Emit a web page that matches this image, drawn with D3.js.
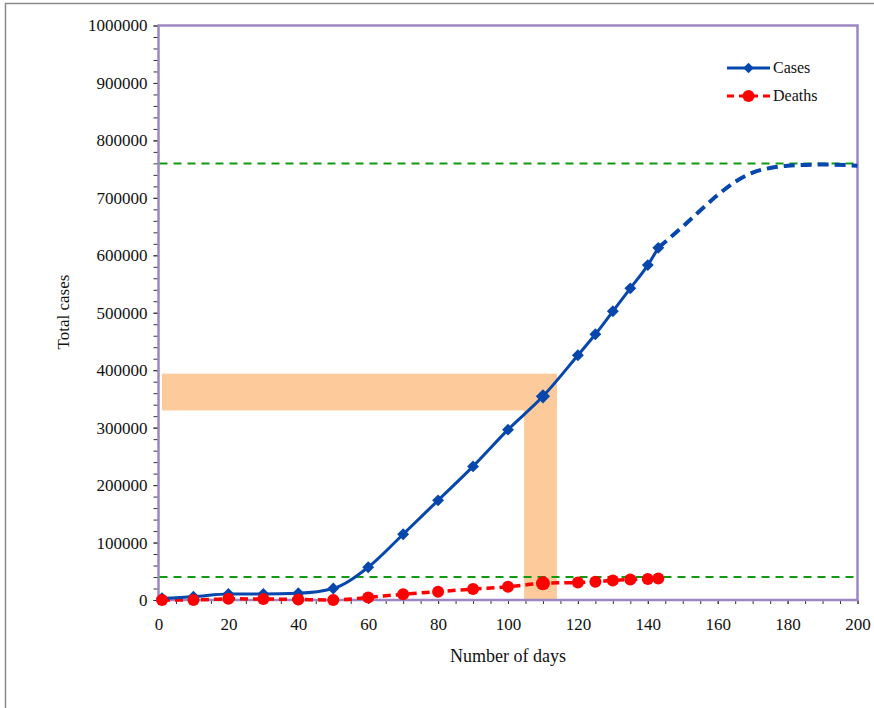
<!DOCTYPE html>
<html>
<head>
<meta charset="utf-8">
<script src="https://cdn.jsdelivr.net/npm/d3@7"></script>
<style>
  body { margin: 0; background: #fff; overflow: hidden; }
  svg { display: block; }
  text { font-family: "Liberation Serif", "Times New Roman", serif; fill: #111; }
  .tick text { font-size: 17px; }
  .tick line { stroke: #333; }
</style>
</head>
<body>
<script>
// observed data
const days = [1, 10, 20, 30, 40, 50, 60, 70, 80, 90, 100, 110, 120, 125, 130, 135, 140, 143]
const cases = [3000, 5800, 10500, 10500, 11700, 20000, 57000, 114500, 173500, 232500, 296500, 354500, 426000, 462500, 502500, 542500, 583000, 613000]
const deaths = [0, 0, 2000, 1800, 1000, 0, 4500, 10000, 14500, 19000, 23000, 29000, 30500, 31800, 34000, 35500, 36500, 37600]

// projected cases (dashed)
const projDays = [143, 150, 155, 160, 165, 170, 175, 180, 190, 200]
const projCases = [613000, 650000, 678000, 705000, 728000, 744000, 752000, 756000, 758000, 756000]

// reference levels (green dashed)
const levels = [760000, 40000]

// shaded annotation bands [x0, x1, y0, y1]
const bands = [[1, 114, 330000, 394000], [104.6, 114, 0, 388000]]

const xTicks = [0, 20, 40, 60, 80, 100, 120, 140, 160, 180, 200]
const yTicks = [0, 100000, 200000, 300000, 400000, 500000, 600000, 700000, 800000, 900000, 1000000]

const width = 874
const height = 708
const margin = { top: 25.5, left: 158.5, right: 16.5, bottom: 108 }
const innerWidth = width - margin.left - margin.right
const innerHeight = height - margin.top - margin.bottom

const blue = '#0647ad'
const red = '#ff0000'
const green = '#109a10'
const purple = '#9c86c4'

const svg = d3.select('body').append('svg')
  .attr('width', width)
  .attr('height', height)

// outer frame (top and left edges visible)
svg.append('path')
  .attr('d', `M5.5,${height} V3.5 H${width}`)
  .attr('fill', 'none')
  .attr('stroke', '#888')
  .attr('stroke-width', 1.5)

const main = svg.append('g')
  .attr('transform', `translate(${margin.left}, ${margin.top})`)

const xScale = d3.scaleLinear().domain([0, 200]).range([0, innerWidth])
const yScale = d3.scaleLinear().domain([0, 1000000]).range([innerHeight, 0])

// bands
main.append('g').selectAll('rect')
  .data(bands)
  .enter()
  .append('rect')
  .attr('x', d => xScale(d[0]))
  .attr('width', d => xScale(d[1]) - xScale(d[0]))
  .attr('y', d => yScale(d[3]))
  .attr('height', d => yScale(d[2]) - yScale(d[3]))
  .attr('fill', '#fdcb9b')

// minor ticks (no labels)
main.append('g')
  .call(d3.axisLeft(yScale).tickValues(d3.range(0, 1000001, 20000)).tickSize(5))
  .call(g => g.select('.domain').remove())
  .call(g => g.selectAll('text').remove())
main.append('g')
  .attr('transform', `translate(0, ${innerHeight})`)
  .call(d3.axisBottom(xScale).tickValues(d3.range(0, 201, 5)).tickSize(4))
  .call(g => g.select('.domain').remove())
  .call(g => g.selectAll('text').remove())

// axes
main.append('g')
  .call(d3.axisLeft(yScale).tickValues(yTicks).tickSize(5).tickPadding(6).tickFormat(d3.format('d')))
  .call(g => g.select('.domain').remove())
main.append('g')
  .attr('transform', `translate(0, ${innerHeight})`)
  .call(d3.axisBottom(xScale).tickValues(xTicks).tickSize(4).tickPadding(14))
  .call(g => g.select('.domain').remove())

// plot border
main.append('rect')
  .attr('width', innerWidth)
  .attr('height', innerHeight)
  .attr('fill', 'none')
  .attr('stroke', purple)
  .attr('stroke-width', 2.5)

// reference lines
main.append('g').selectAll('line')
  .data(levels)
  .enter()
  .append('line')
  .attr('x1', 1).attr('x2', innerWidth - 1)
  .attr('y1', d => yScale(d)).attr('y2', d => yScale(d))
  .attr('stroke', green)
  .attr('stroke-width', 2)
  .attr('stroke-dasharray', '8,6')

const caseData = days.map((d, i) => ({ x: d, y: cases[i] }))
const deathData = days.map((d, i) => ({ x: d, y: deaths[i] }))
const projData = projDays.map((d, i) => ({ x: d, y: projCases[i] }))

const line = d3.line()
  .x(d => xScale(d.x))
  .y(d => yScale(d.y))
  .curve(d3.curveMonotoneX)

main.append('path')
  .datum(deathData)
  .attr('d', line)
  .attr('fill', 'none')
  .attr('stroke', red)
  .attr('stroke-width', 3.5)
  .attr('stroke-dasharray', '8,5')

main.append('path')
  .datum(projData)
  .attr('d', line)
  .attr('fill', 'none')
  .attr('stroke', blue)
  .attr('stroke-width', 4)
  .attr('stroke-dasharray', '11,6')

main.append('path')
  .datum(caseData)
  .attr('d', line)
  .attr('fill', 'none')
  .attr('stroke', blue)
  .attr('stroke-width', 3)

const diamond = d3.symbol().type(d3.symbolDiamond2)

main.append('g').selectAll('path')
  .data(caseData)
  .enter()
  .append('path')
  .attr('transform', d => `translate(${xScale(d.x)}, ${yScale(d.y)})`)
  .attr('d', d => diamond.size(d.x === 110 ? 130 : 90)())
  .attr('fill', blue)

main.append('g').selectAll('circle')
  .data(deathData)
  .enter()
  .append('circle')
  .attr('cx', d => xScale(d.x))
  .attr('cy', d => yScale(d.y))
  .attr('r', d => d.x === 110 ? 7 : 6)
  .attr('fill', red)

// legend
const legend = svg.append('g').attr('transform', 'translate(727, 68)')
legend.append('line').attr('x1', 0).attr('x2', 43).attr('stroke', blue).attr('stroke-width', 3)
legend.append('path').attr('transform', 'translate(21.5, 0)').attr('d', diamond.size(70)()).attr('fill', blue)
legend.append('text').attr('x', 46).attr('y', 5).style('font-size', '16px').text('Cases')
legend.append('line').attr('x1', 0).attr('x2', 43).attr('y1', 28).attr('y2', 28)
  .attr('stroke', red).attr('stroke-width', 3).attr('stroke-dasharray', '7,5')
legend.append('circle').attr('cx', 21.5).attr('cy', 28).attr('r', 6).attr('fill', red)
legend.append('text').attr('x', 46).attr('y', 33).style('font-size', '16px').text('Deaths')

// axis labels
svg.append('text')
  .attr('x', margin.left + innerWidth / 2)
  .attr('y', 662)
  .attr('text-anchor', 'middle')
  .style('font-size', '18px')
  .text('Number of days')

svg.append('text')
  .attr('transform', `translate(69, 312) rotate(-90)`)
  .attr('text-anchor', 'middle')
  .style('font-size', '17px')
  .text('Total cases')
</script>
</body>
</html>
